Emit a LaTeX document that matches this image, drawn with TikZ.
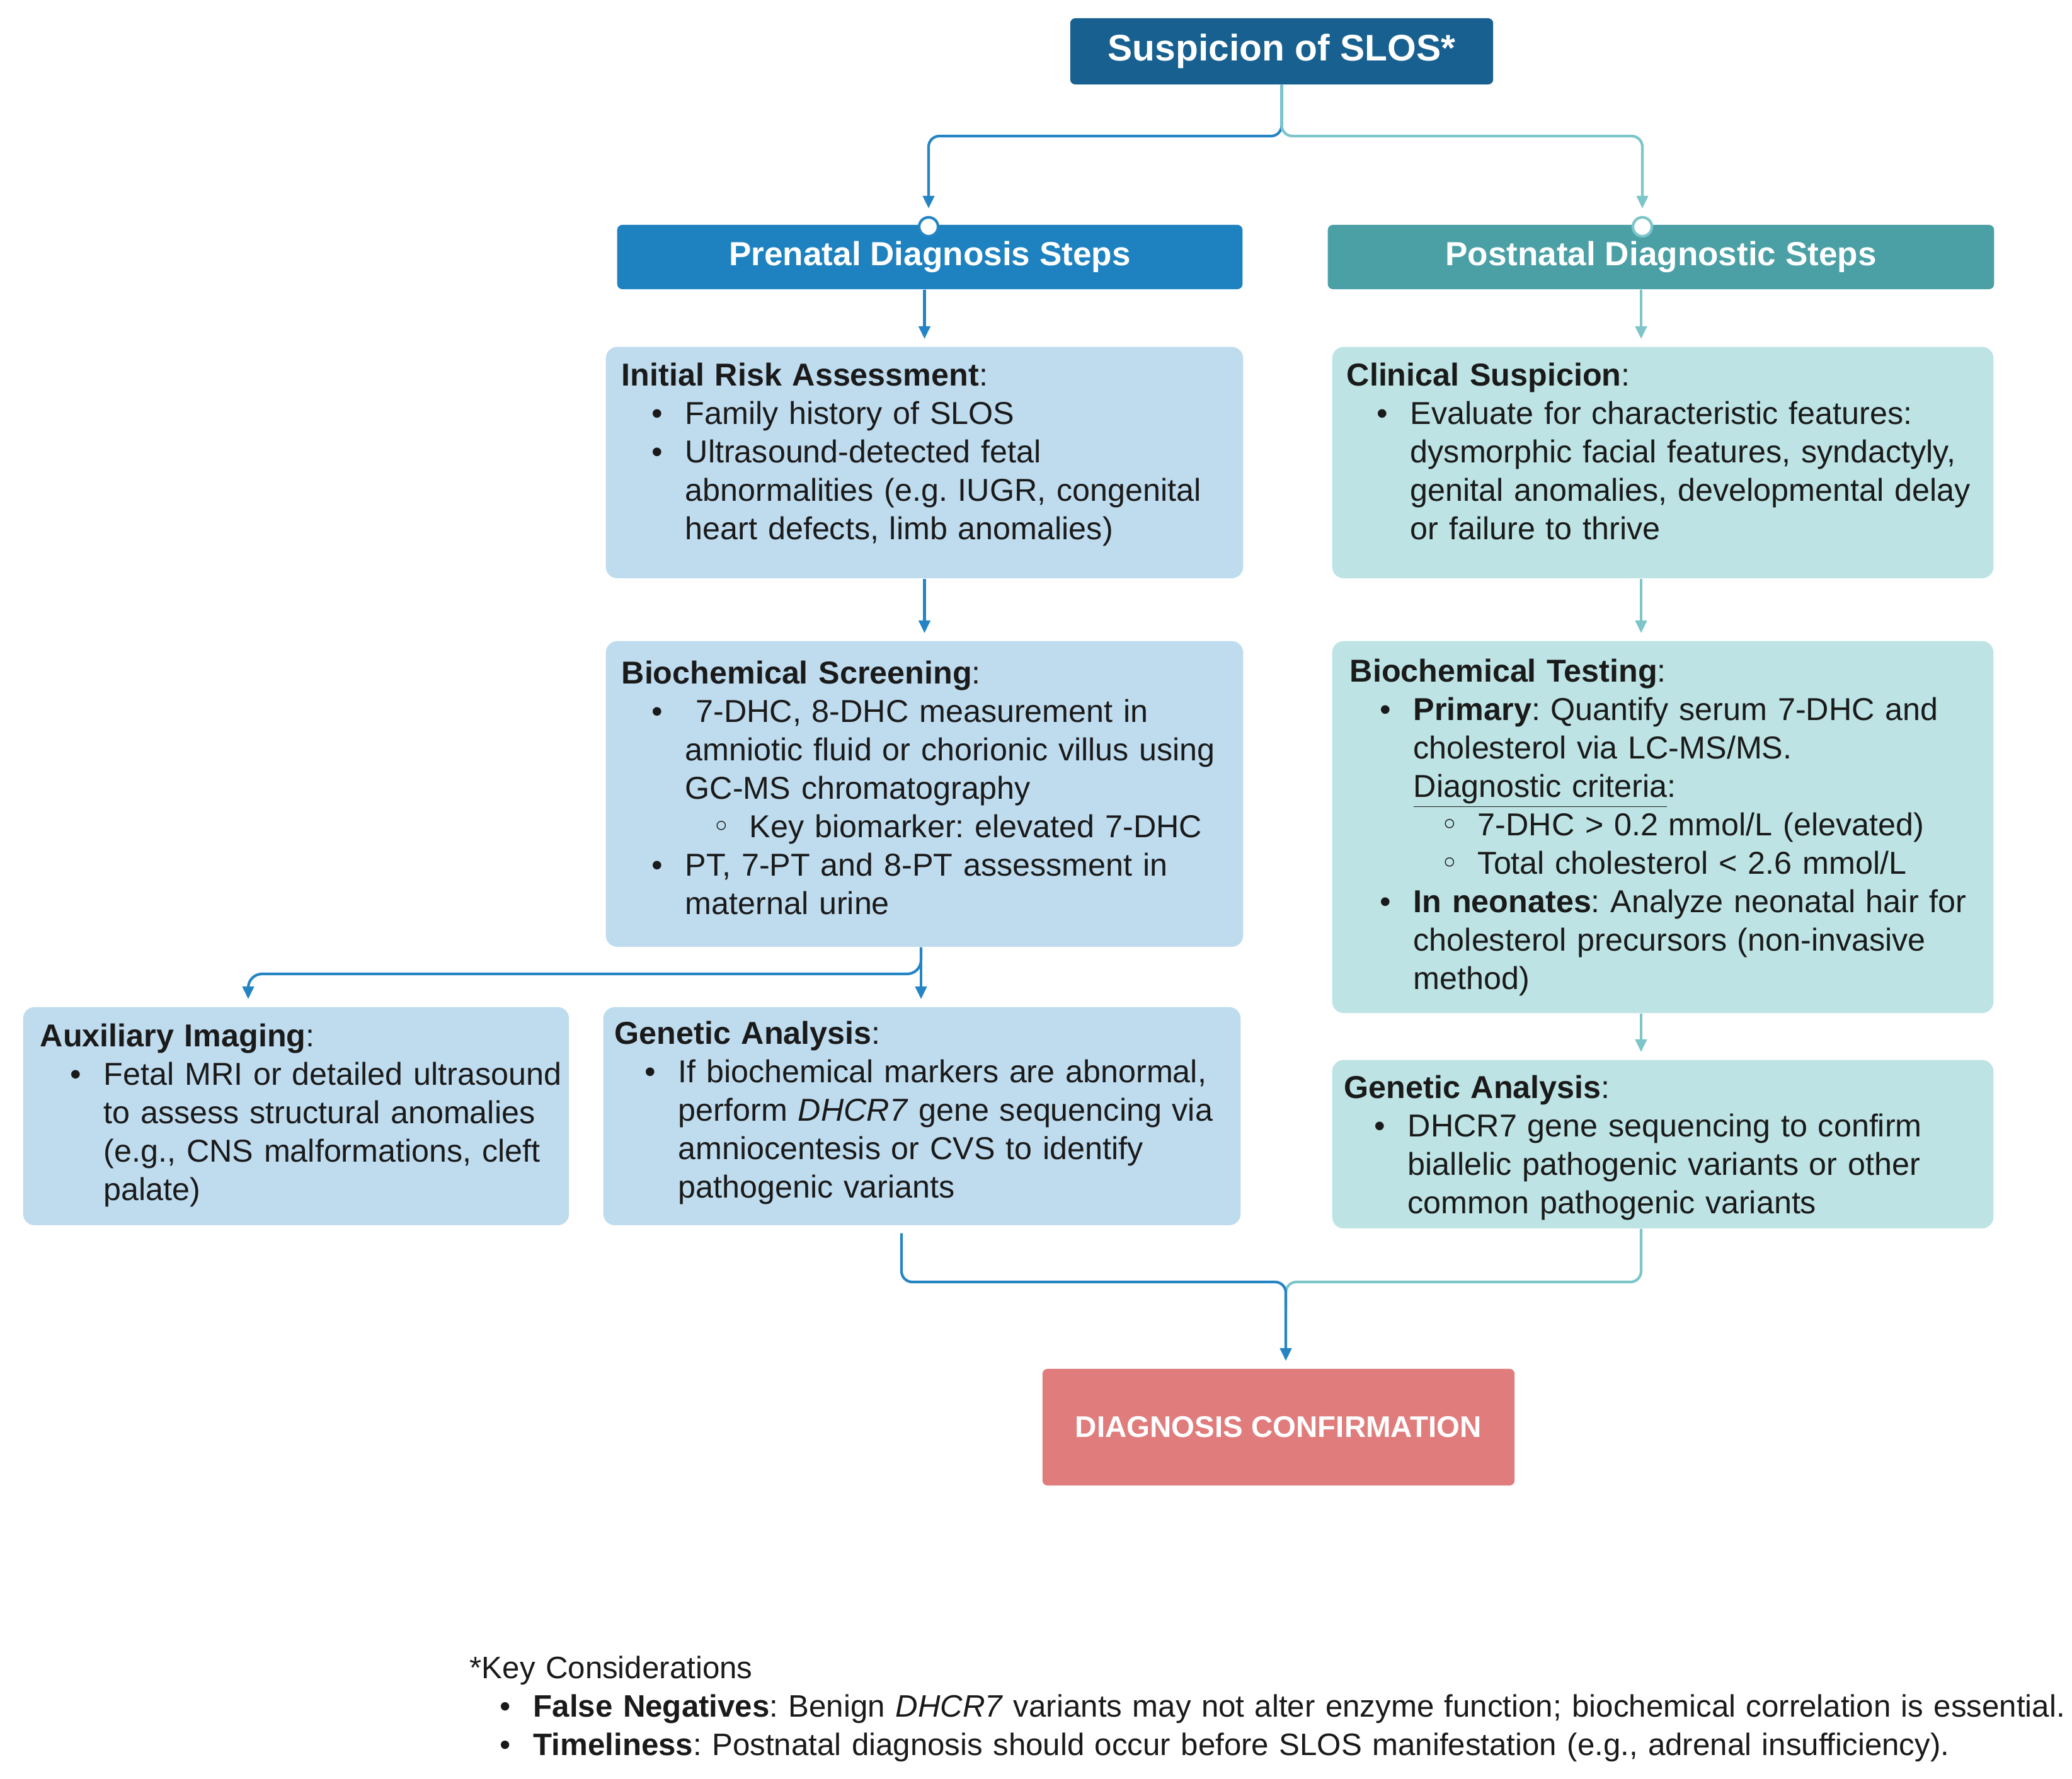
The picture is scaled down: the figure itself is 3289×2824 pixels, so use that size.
\documentclass[tikz,border=0pt]{standalone}
\usepackage{fontspec}
\setmainfont{Liberation Sans}
\newfontfamily\symfnt{DejaVu Sans}
\usepackage{enumitem}
\usetikzlibrary{arrows.meta,calc}
\frenchspacing
\definecolor{susblue}{HTML}{17608F}
\definecolor{preblue}{HTML}{1E82C0}
\definecolor{postteal}{HTML}{4AA0A5}
\definecolor{lightblue}{HTML}{BFDCEF}
\definecolor{lightteal}{HTML}{BDE3E4}
\definecolor{diagred}{HTML}{E07C7C}
\definecolor{lineblue}{HTML}{2585C4}
\definecolor{lineteal}{HTML}{7CC5C9}
\definecolor{ink}{HTML}{1A1A1A}
\newcommand\bodyfnt{\frenchspacing\fontsize{14.3}{17.36}\selectfont}
\newcommand\notefnt{\frenchspacing\fontsize{14.0}{17.36}\selectfont}
\setlist[itemize]{itemsep=0pt,topsep=0pt,parsep=0pt,partopsep=0pt}
\setlist[itemize,1]{label=\textbullet,leftmargin=1.01cm,labelsep=0.36cm}
\setlist[itemize,2]{label={\symfnt\char"25E6},leftmargin=1.02cm,labelsep=0.3cm}
\tikzset{
  lbox/.style={fill=lightblue, rounded corners=0.18cm, inner sep=0pt, anchor=north west},
  tbox/.style={fill=lightteal, rounded corners=0.18cm, inner sep=0pt, anchor=north west},
  txt/.style={anchor=base west, inner sep=0pt, text width=12cm, align=left, text=ink, font=\bodyfnt},
  hdr/.style={rounded corners=0.08cm, text=white, inner sep=0pt},
  conb/.style={draw=lineblue, line width=1.2pt, rounded corners=0.17cm},
  cont/.style={draw=lineteal, line width=1.2pt, rounded corners=0.17cm},
  arrowend/.style={-{Triangle[length=0.2cm,width=0.18cm]}, shorten >=0.12cm},
  ring/.style={circle, fill=white, line width=1.2pt, minimum size=0.3cm, inner sep=0pt}
}
\begin{document}
\begin{tikzpicture}[x=0.01cm,y=-0.01cm]
\useasboundingbox[fill=white] (0,0) rectangle (3289,2824);

% ---- top and headers
\node[hdr, fill=susblue, minimum width=6.71cm, minimum height=1.05cm,
      font=\fontsize{16.7}{20}\selectfont\bfseries] (sus) at (2034.5,81.5) {Suspicion of SLOS*};
\node[hdr, fill=preblue, minimum width=9.92cm, minimum height=1.02cm,
      font=\fontsize{15.1}{18}\selectfont\bfseries] (prehead) at (1476,408) {Prenatal Diagnosis Steps};
\node[hdr, fill=postteal, minimum width=10.57cm, minimum height=1.02cm,
      font=\fontsize{15.1}{18}\selectfont\bfseries] (posthead) at (2636.5,408) {Postnatal Diagnostic Steps};
\node[ring, draw=lineblue] (prec) at (1474,360) {};
\node[ring, draw=lineteal] (postc) at (2607,360) {};

% ---- boxes
\node[lbox, minimum width=10.11cm, minimum height=3.67cm] (risk) at (961,550) {};
\node[lbox, minimum width=10.11cm, minimum height=4.85cm] (bs) at (961,1017) {};
\node[lbox, minimum width=8.66cm, minimum height=3.46cm] (aux) at (36,1598) {};
\node[lbox, minimum width=10.11cm, minimum height=3.46cm] (genpre) at (957,1598) {};
\node[tbox, minimum width=10.49cm, minimum height=3.67cm] (clin) at (2114,550) {};
\node[tbox, minimum width=10.49cm, minimum height=5.90cm] (bt) at (2114,1017) {};
\node[tbox, minimum width=10.49cm, minimum height=2.67cm] (genpost) at (2114,1682) {};
\node[hdr, fill=diagred, minimum width=7.49cm, minimum height=1.85cm,
      font=\fontsize{13.5}{16}\selectfont\bfseries] (diag) at (2029.5,2265.5) {DIAGNOSIS CONFIRMATION};

% ---- texts
\node[txt] (risktxt) at (986,612) {\textbf{Initial Risk Assessment}:
\begin{itemize}
\item Family history of SLOS
\item Ultrasound-detected fetal\\abnormalities (e.g. IUGR, congenital\\heart defects, limb anomalies)
\end{itemize}};

\node[txt] (bstxt) at (986,1085) {\textbf{Biochemical Screening}:
\begin{itemize}
\item \ 7-DHC, 8-DHC measurement in\\amniotic fluid or chorionic villus using\\GC-MS chromatography
  \begin{itemize}
  \item Key biomarker: elevated 7-DHC
  \end{itemize}
\item PT, 7-PT and 8-PT assessment in\\maternal urine
\end{itemize}};

\node[txt] (auxtxt) at (63,1661) {\textbf{Auxiliary Imaging}:
\begin{itemize}
\item Fetal MRI or detailed ultrasound\\to assess structural anomalies\\(e.g., CNS malformations, cleft\\palate)
\end{itemize}};

\node[txt] (genpretxt) at (975,1657) {\textbf{Genetic Analysis}:
\begin{itemize}
\item If biochemical markers are abnormal,\\perform \textit{DHCR7} gene sequencing via\\amniocentesis or CVS to identify\\pathogenic variants
\end{itemize}};

\node[txt] (clintxt) at (2137,612) {\textbf{Clinical Suspicion}:
\begin{itemize}
\item Evaluate for characteristic features:\\dysmorphic facial features, syndactyly,\\genital anomalies, developmental delay\\or failure to thrive
\end{itemize}};

\node[txt] (bttxt) at (2142,1082) {\textbf{Biochemical Testing}:
\begin{itemize}
\item \textbf{Primary}: Quantify serum 7-DHC and\\cholesterol via LC-MS/MS.\\\underline{Diagnostic criteria}:
  \begin{itemize}
  \item 7-DHC > 0.2 mmol/L (elevated)
  \item Total cholesterol < 2.6 mmol/L
  \end{itemize}
\item \textbf{In neonates}: Analyze neonatal hair for\\cholesterol precursors (non-invasive\\method)
\end{itemize}};

\node[txt] (genposttxt) at (2133,1743) {\textbf{Genetic Analysis}:
\begin{itemize}
\item DHCR7 gene sequencing to confirm\\biallelic pathogenic variants or other\\common pathogenic variants
\end{itemize}};

\node[txt, text width=26cm, font=\notefnt] (notes) at (745,2664) {*Key Considerations
\begin{itemize}
\item \textbf{False Negatives}: Benign \textit{DHCR7} variants may not alter enzyme function; biochemical correlation is essential.
\item \textbf{Timeliness}: Postnatal diagnosis should occur before SLOS manifestation (e.g., adrenal insufficiency).
\end{itemize}};

% ---- helper coordinates
\coordinate (split) at (2036,216);
\coordinate (rc) at (2605,0);
\coordinate (bsx) at (1462,0);
\coordinate (auxx) at (394,0);
\coordinate (forky) at (0,1546);
\coordinate (gpx) at (1431,0);
\coordinate (merge) at (2041,2035);

% ---- connectors
\draw[conb, arrowend] (sus.south) -- (sus.south |- split) -| (prec.north);
\draw[cont, arrowend] (sus.south) -- (sus.south |- split) -| (postc.north);

\draw[conb, arrowend] (prehead.south -| risk.north) -- (risk.north);
\draw[conb, arrowend] (risk.south) -- (bs.north);
\draw[conb, arrowend] (bs.south -| bsx) -- (genpre.north -| bsx);
\draw[conb, arrowend, rounded corners=0.22cm] (bs.south -| bsx) -- (bsx |- forky) -| (aux.north -| auxx);

\draw[cont, arrowend] (posthead.south -| rc) -- (clin.north -| rc);
\draw[cont, arrowend] (clin.south -| rc) -- (bt.north -| rc);
\draw[cont, arrowend] (bt.south -| rc) -- (genpost.north -| rc);

\draw[cont] (genpost.south -| rc) |- (merge) -- ++(0,45);
\draw[conb, arrowend, shorten <=0.12cm] (genpre.south -| gpx) |- (merge) -- (diag.north -| merge);
\end{tikzpicture}
\end{document}
